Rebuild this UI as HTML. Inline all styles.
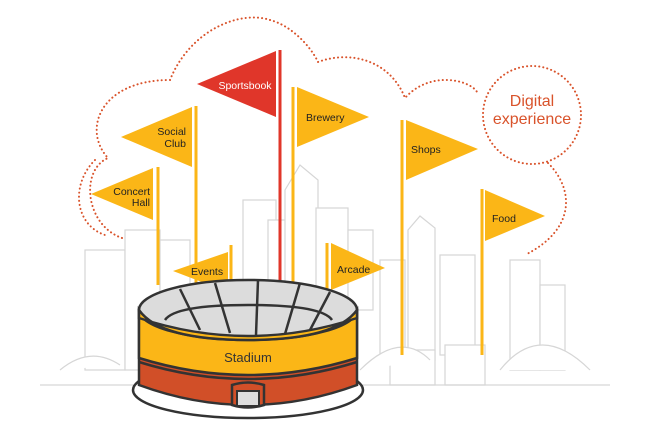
<!DOCTYPE html>
<html><head><style>body{margin:0;background:#fff}svg{display:block}text{font-family:"Liberation Sans",sans-serif}</style></head><body>
<svg width="655" height="442" viewBox="0 0 655 442" xmlns="http://www.w3.org/2000/svg">
<g fill="#fff" stroke="#d6d6d6" stroke-width="1.2">
<rect x="85" y="250" width="40" height="120"/>
<rect x="125" y="230" width="35" height="140"/>
<rect x="160" y="240" width="30" height="130"/>
<rect x="243" y="200" width="33" height="170"/>
<rect x="268" y="220" width="50" height="150"/>
<polygon points="285,190 300,165 318,180 318,290 285,290"/>
<rect x="316" y="208" width="32" height="100"/>
<rect x="348" y="230" width="25" height="80"/>
<rect x="380" y="260" width="25" height="100"/>
<polygon points="408,230 420,216 435,228 435,360 408,360"/>
<rect x="440" y="255" width="35" height="100"/>
<rect x="510" y="260" width="30" height="110"/>
<rect x="540" y="285" width="25" height="85"/>
<rect x="390" y="350" width="45" height="35"/>
<rect x="445" y="345" width="40" height="40"/>
<path d="M60 370 Q90 345 120 365 M360 370 Q400 330 430 360 M500 370 Q540 320 590 370 M40 385 L610 385"/>
</g>
<g fill="none" stroke="#d9532b" stroke-width="2" stroke-dasharray="0.1 4" stroke-linecap="round">
<path d="M122,238 C85,225 80,170 108,158 C82,130 100,80 170,80 C190,30 240,10 270,20 C290,25 310,45 318,62 C350,50 390,60 405,98 C430,70 470,80 477,92"/>
<path d="M548,163 C575,190 575,230 525,255"/>
<path d="M95,160 C70,185 75,225 105,235"/>
<circle cx="532" cy="115" r="49"/>
</g>
<text x="532" y="106" font-size="16" fill="#d9532b" text-anchor="middle">Digital</text>
<text x="532" y="124" font-size="16" fill="#d9532b" text-anchor="middle">experience</text>
<g stroke="#fbb617" stroke-width="3">
<line x1="158" y1="167" x2="158" y2="285"/>
<line x1="196" y1="106" x2="196" y2="330"/>
<line x1="293" y1="87" x2="293" y2="300"/>
<line x1="402" y1="120" x2="402" y2="355"/>
<line x1="482" y1="189" x2="482" y2="355"/>
<line x1="231" y1="245" x2="231" y2="330"/>
<line x1="327" y1="243" x2="327" y2="330"/>
</g>
<line x1="280" y1="50" x2="280" y2="300" stroke="#e0362a" stroke-width="3"/>
<g fill="#fbb617">
<polygon points="197,84 276,51 276,117" fill="#e0362a"/>
<polygon points="297,87 297,147 369,117"/>
<polygon points="121,137 192,107 192,167"/>
<polygon points="91,194 153,168 153,220"/>
<polygon points="406,120 406,180 478,149"/>
<polygon points="485,190 485,241 545,216"/>
<polygon points="173,271 228,252 228,292"/>
<polygon points="331,243 331,290 385,268"/>
</g>
<g font-size="10.5" fill="#222">
<text x="245" y="89" fill="#fff" text-anchor="middle">Sportsbook</text>
<text x="306" y="121">Brewery</text>
<text x="186" y="135" text-anchor="end">Social</text>
<text x="186" y="147" text-anchor="end">Club</text>
<text x="150" y="195" text-anchor="end">Concert</text>
<text x="150" y="206" text-anchor="end">Hall</text>
<text x="411" y="153">Shops</text>
<text x="492" y="222">Food</text>
<text x="191" y="275">Events</text>
<text x="337" y="273">Arcade</text>
</g>
<g stroke="#333" stroke-width="2.5">
<ellipse cx="248" cy="390" rx="115" ry="28" fill="#fff"/>
<path d="M139,310 L139,385 Q248,425 357,385 L357,310 Z" fill="#d14f28"/>
<path d="M139,310 L139,358 Q248,392 357,358 L357,310 Z" fill="#fbb617"/>
<path d="M139,362 Q248,396 357,362" fill="none"/>
<ellipse cx="248" cy="310" rx="109" ry="30" fill="#dcdcdc"/>
<path d="M165,320 Q175,305 248,305 Q322,305 332,320" fill="none"/>
<path d="M139,318 Q248,354 357,318 L357,310 Q335,340 248,340 Q160,340 139,310 Z" fill="#fbb617"/>
<path d="M180,289 L200,330 M215,283 L230,333 M258,280 L256,335 M300,283 L285,334 M330,292 L310,330" fill="none"/>
<path d="M232,385 L232,405 Q248,410 264,405 L264,385 Q248,380 232,385 Z" fill="#d14f28"/>
<path d="M237,391 L237,406 L259,406 L259,391 Z" fill="#ddd" stroke-width="2"/>
</g>
<text x="248" y="362" font-size="13" fill="#333" text-anchor="middle">Stadium</text>
</svg>
</body></html>
